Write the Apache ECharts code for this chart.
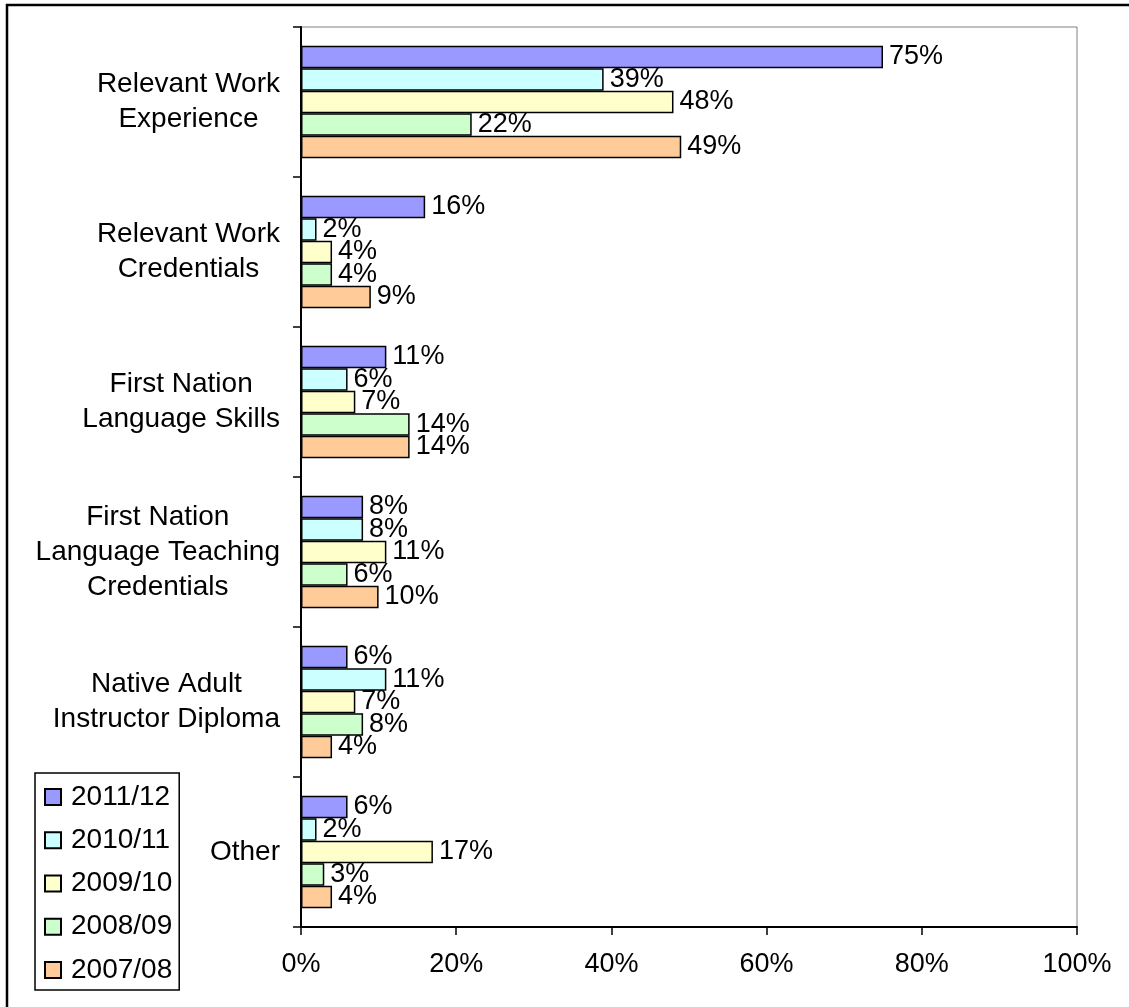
<!DOCTYPE html>
<html><head><meta charset="utf-8">
<script src="https://cdn.jsdelivr.net/npm/echarts@6/dist/echarts.min.js"></script>
<style>html,body{margin:0;padding:0;background:#fff}#c{width:1129px;height:1007px}</style>
</head><body><div id="c"></div>
<script>
const categories = ['Relevant Work\nExperience', 'Relevant Work\nCredentials', 'First Nation\nLanguage Skills', 'First Nation\nLanguage Teaching\nCredentials', 'Native Adult\nInstructor Diploma', 'Other'];
const seriesNames = ['2011/12', '2010/11', '2009/10', '2008/09', '2007/08'];
const v2011_12 = [75, 16, 11, 8, 6, 6];
const v2010_11 = [39, 2, 6, 8, 11, 2];
const v2009_10 = [48, 4, 7, 11, 7, 17];
const v2008_09 = [22, 4, 14, 6, 8, 3];
const v2007_08 = [49, 9, 14, 10, 4, 4];
const xTicks = [0, 20, 40, 60, 80, 100];

const seriesData = [v2011_12, v2010_11, v2009_10, v2008_09, v2007_08];
const colors = ['#9999FF', '#CCFFFF', '#FFFFCC', '#CCFFCC', '#FFCC99'];
const FONT = '"Liberation Sans", Arial, sans-serif';

const chart = echarts.init(document.getElementById('c'), null, {renderer: 'canvas'});
chart.setOption({
  animation: false,
  backgroundColor: '#fff',
  textStyle: {fontFamily: FONT},
  graphic: [{
    type: 'rect', x: 0, y: 0, z: 100, silent: true,
    shape: {x: 7, y: 5, width: 1300, height: 1200},
    style: {fill: 'none', stroke: '#000', lineWidth: 2.5}
  }],
  grid: {left: 301, right: 52, top: 27, bottom: 80, show: true, borderColor: '#808080', borderWidth: 1, backgroundColor: 'transparent'},
  legend: {
    orient: 'vertical', left: 35, top: 773,
    data: seriesNames,
    itemWidth: 16, itemHeight: 16, itemGap: 15.25,
    icon: 'rect',
    padding: [10, 7, 6, 9],
    borderColor: '#000', borderWidth: 1.5,
    textStyle: {fontSize: 28, color: '#000', fontFamily: FONT, lineHeight: 28, padding: [0, 0, 0, 5]}
  },
  xAxis: {
    type: 'value', min: 0, max: 100, interval: 20,
    axisLine: {show: true, lineStyle: {color: '#000', width: 2}},
    axisTick: {show: true, length: 8, lineStyle: {color: '#000', width: 1.5}},
    splitLine: {show: false},
    axisLabel: {fontSize: 27, color: '#000', margin: 24, fontFamily: FONT,
      formatter: v => xTicks.indexOf(v) >= 0 ? v + '%' : ''}
  },
  yAxis: {
    type: 'category', inverse: true, data: categories,
    axisLine: {show: true, lineStyle: {color: '#000', width: 2}},
    axisTick: {show: true, length: 8, lineStyle: {color: '#000', width: 1.5}},
    axisLabel: {
      margin: 21, color: '#000', fontSize: 28, fontFamily: FONT, lineHeight: 35,
      formatter: v => v.split('\n').map(l => '{c|' + l + '}').join('\n'),
      rich: {c: {align: 'center', fontSize: 28, lineHeight: 35, color: '#000', fontFamily: FONT}}
    }
  },
  series: seriesNames.map((n, i) => ({
    name: n, type: 'bar', data: seriesData[i],
    barGap: '0%', barCategoryGap: '25%',
    itemStyle: {color: colors[i], borderColor: '#000', borderWidth: 1.5},
    label: {show: true, position: 'right', distance: 6, formatter: '{c}%', fontSize: 27, color: '#000', fontFamily: FONT}
  }))
});
</script></body></html>
